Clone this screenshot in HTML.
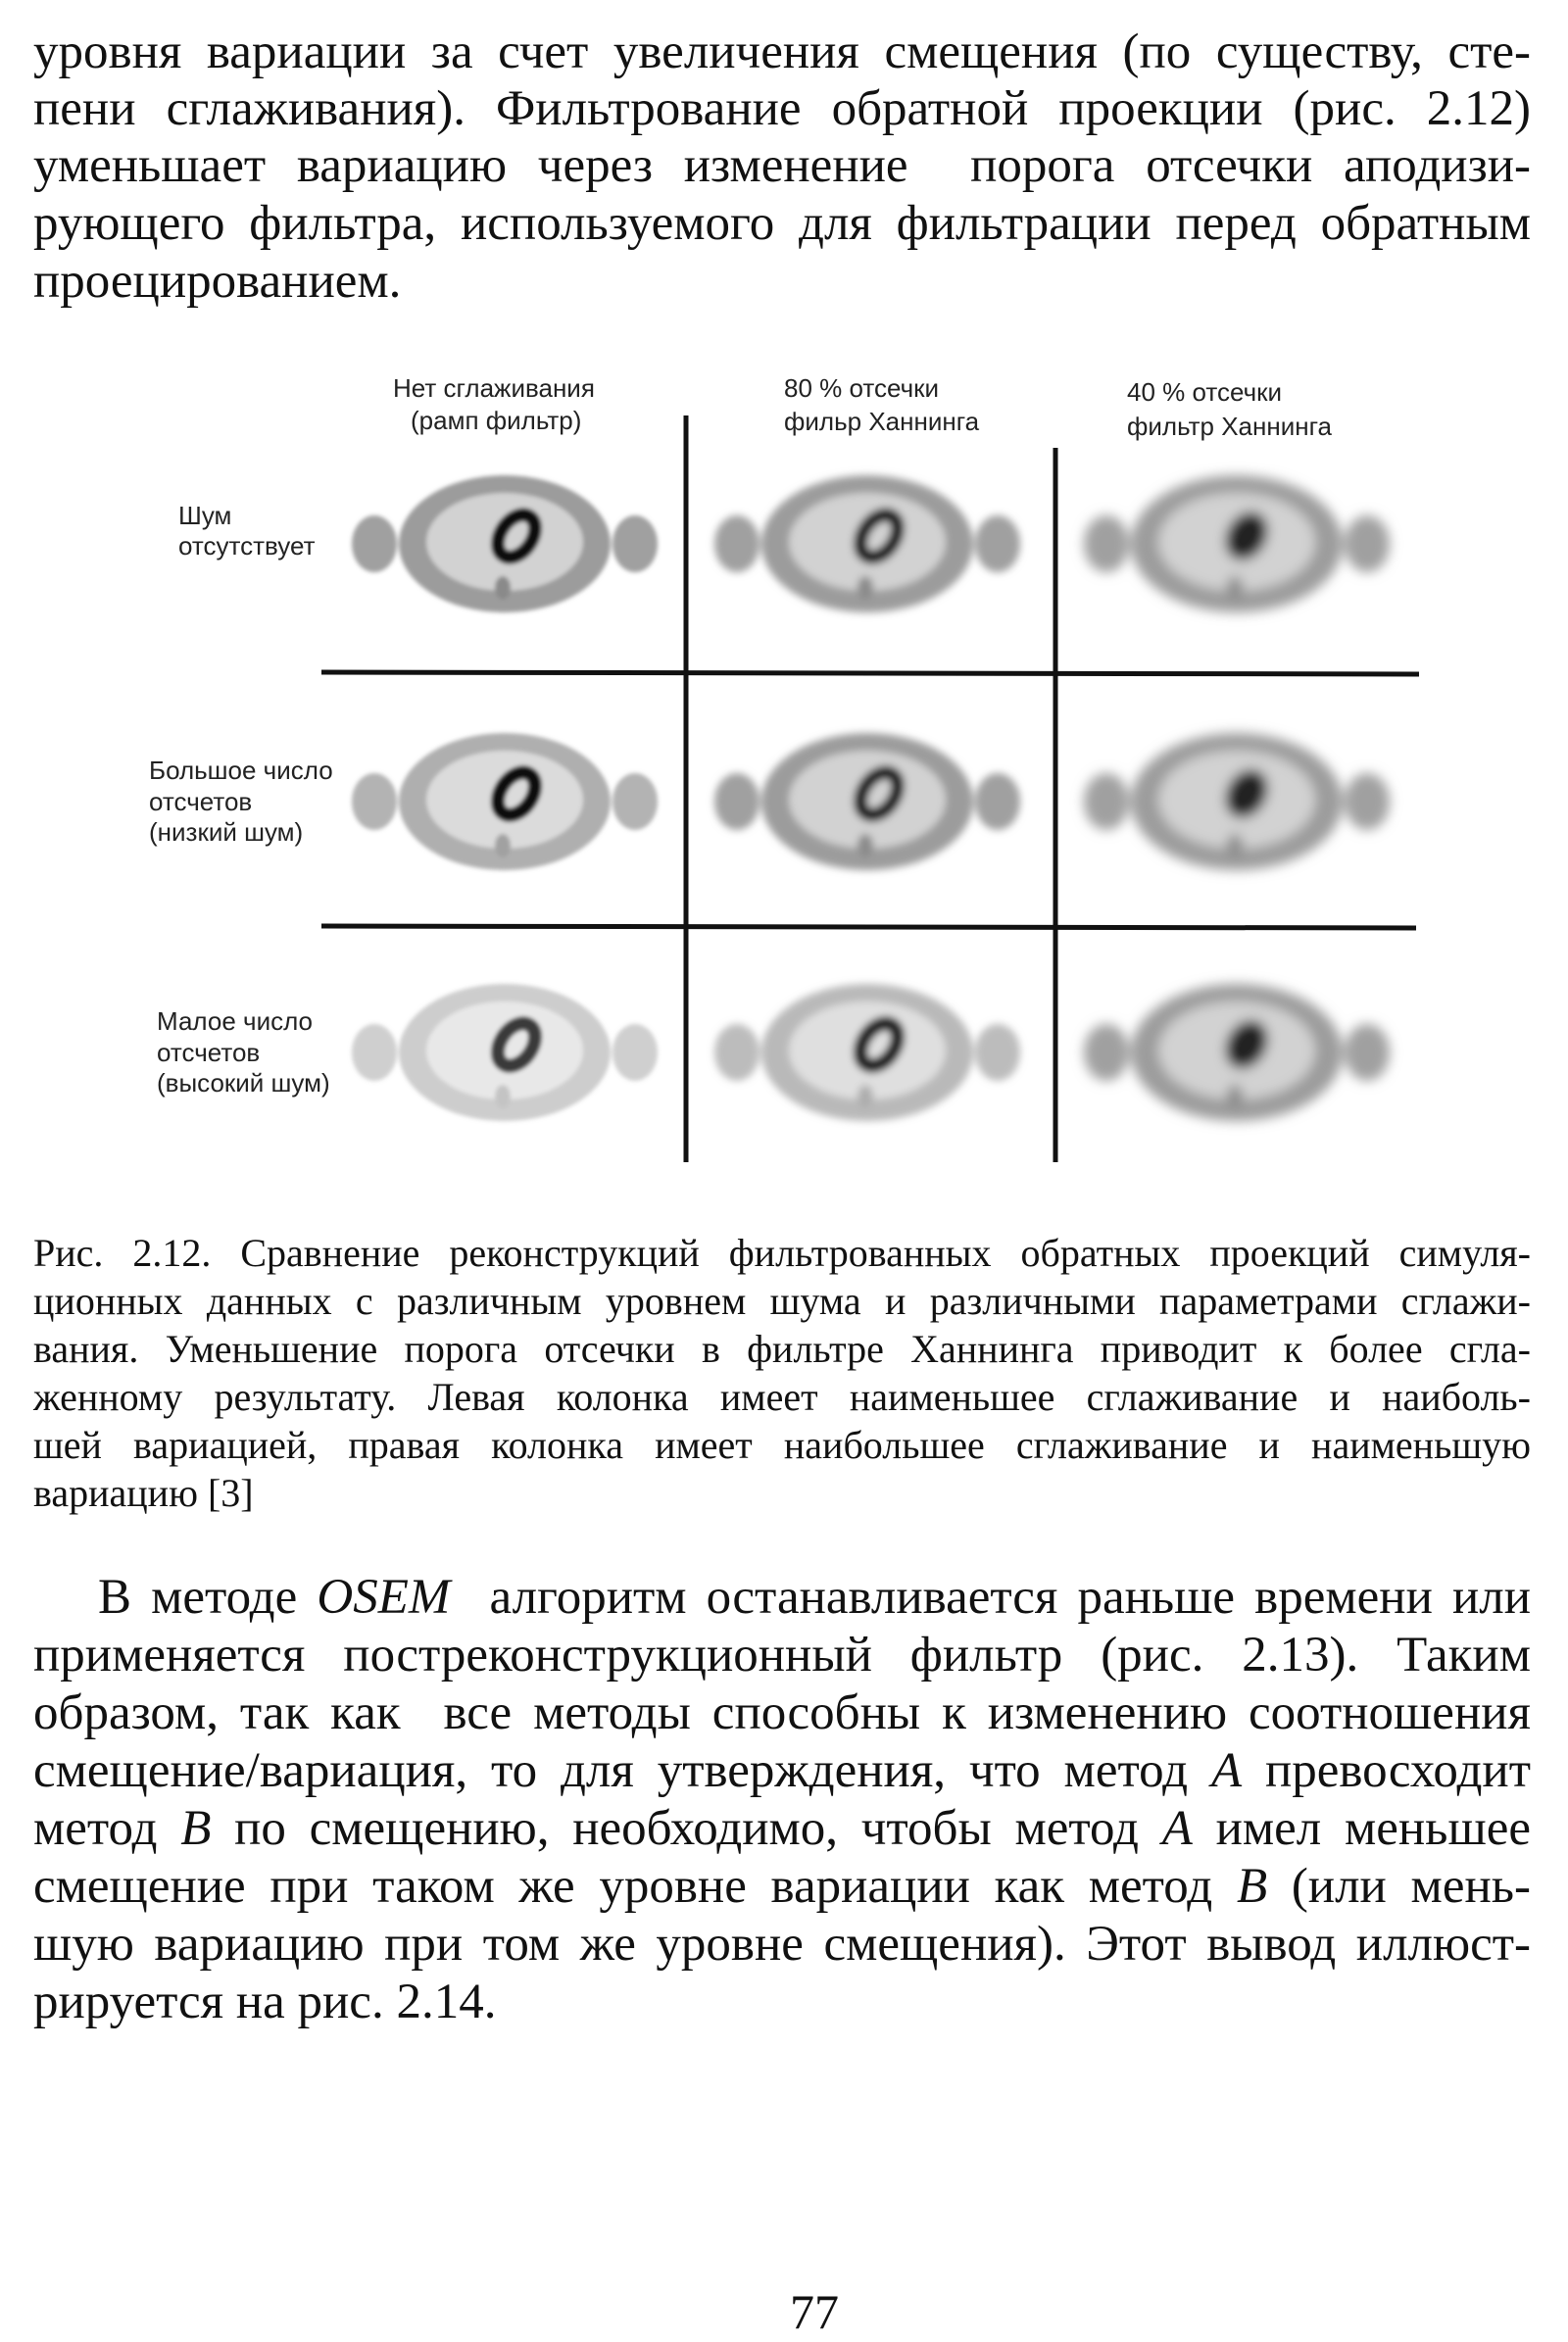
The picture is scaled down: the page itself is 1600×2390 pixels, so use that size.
<!DOCTYPE html>
<html><head><meta charset="utf-8">
<style>
html,body{margin:0;padding:0;background:#fff;}
body{width:1600px;height:2390px;position:relative;overflow:hidden;font-family:"Liberation Serif",serif;color:#111;}
.l{position:absolute;left:34px;width:1528px;white-space:nowrap;text-align:justify;text-align-last:justify;}
.l.last{text-align-last:left;}
.t{font-size:51px;line-height:58px;}
.c{font-size:40px;line-height:49px;}
.s{position:absolute;font-family:"Liberation Sans",sans-serif;font-size:26px;line-height:32px;color:#222;white-space:nowrap;}
</style></head><body>
<div class="l t" style="top:24px">уровня вариации за счет увеличения смещения (по существу, сте-</div>
<div class="l t" style="top:82px">пени сглаживания). Фильтрование обратной проекции (рис. 2.12)</div>
<div class="l t" style="top:140px">уменьшает вариацию через изменение &nbsp;порога отсечки аподизи-</div>
<div class="l t" style="top:199px">рующего фильтра, используемого для фильтрации перед обратным</div>
<div class="l t last" style="top:258px">проецированием.</div>

<svg style="position:absolute;left:0;top:0" width="1600" height="2390">
<defs>
<filter id="b1"><feGaussianBlur stdDeviation="2"/></filter>
<filter id="b2"><feGaussianBlur stdDeviation="4"/></filter>
<filter id="b3"><feGaussianBlur stdDeviation="6"/></filter>
<g id="ph">
<ellipse cx="-133" cy="0" rx="23" ry="29" fill="#a0a0a0"/>
<ellipse cx="133" cy="0" rx="23" ry="29" fill="#a0a0a0"/>
<ellipse cx="0" cy="0" rx="108" ry="70" fill="#9c9c9c"/>
<ellipse cx="0" cy="-2" rx="80" ry="50" fill="#d2d2d2"/>
<ellipse cx="-2" cy="45" rx="8" ry="12" fill="#8a8a8a"/>
</g>
<g id="ring"><ellipse cx="0" cy="0" rx="24" ry="16" fill="none" stroke="#111" stroke-width="14" transform="rotate(-55)"/></g>
<g id="blob"><ellipse cx="0" cy="0" rx="26" ry="20" fill="#222" transform="rotate(-60)"/></g>
</defs>
<g filter="url(#b1)">
<use href="#ph" x="515" y="555"/><use href="#ring" x="527" y="547"/>
<use href="#ph" x="515" y="818" opacity="0.8"/><use href="#ring" x="527" y="810"/>
<use href="#ph" x="515" y="1074" opacity="0.5"/><use href="#ring" x="527" y="1066" opacity="0.8"/>
</g>
<g filter="url(#b2)">
<use href="#ph" x="885" y="555"/><use href="#ring" x="897" y="547"/>
<use href="#ph" x="885" y="818"/><use href="#ring" x="897" y="810"/>
<use href="#ph" x="885" y="1074" opacity="0.7"/><use href="#ring" x="897" y="1066"/>
</g>
<g filter="url(#b3)">
<use href="#ph" x="1262" y="555"/><use href="#blob" x="1272" y="547"/>
<use href="#ph" x="1262" y="818"/><use href="#blob" x="1272" y="810"/>
<use href="#ph" x="1262" y="1074"/><use href="#blob" x="1272" y="1066"/>
</g>
<g stroke="#111" stroke-width="5">
<line x1="700" y1="424" x2="700" y2="1186"/>
<line x1="1077" y1="457" x2="1077" y2="1186"/>
<line x1="328" y1="686" x2="1448" y2="688"/>
<line x1="328" y1="945" x2="1445" y2="947"/>
</g>
</svg>

<div class="s" style="left:401px;top:380px">Нет сглаживания</div>
<div class="s" style="left:419px;top:413px">(рамп фильтр)</div>
<div class="s" style="left:800px;top:380px">80 % отсечки</div>
<div class="s" style="left:800px;top:414px">фильр Ханнинга</div>
<div class="s" style="left:1150px;top:384px">40 % отсечки</div>
<div class="s" style="left:1150px;top:419px">фильтр Ханнинга</div>
<div class="s" style="left:182px;top:510px">Шум</div>
<div class="s" style="left:182px;top:541px">отсутствует</div>
<div class="s" style="left:152px;top:770px">Большое число</div>
<div class="s" style="left:152px;top:802px">отсчетов</div>
<div class="s" style="left:152px;top:833px">(низкий шум)</div>
<div class="s" style="left:160px;top:1026px">Малое число</div>
<div class="s" style="left:160px;top:1058px">отсчетов</div>
<div class="s" style="left:160px;top:1089px">(высокий шум)</div>

<div class="l c" style="top:1254px">Рис. 2.12. Сравнение реконструкций фильтрованных обратных проекций симуля-</div>
<div class="l c" style="top:1303px">ционных данных с различным уровнем шума и различными параметрами сглажи-</div>
<div class="l c" style="top:1352px">вания. Уменьшение порога отсечки в фильтре Ханнинга приводит к более сгла-</div>
<div class="l c" style="top:1401px">женному результату. Левая колонка имеет наименьшее сглаживание и наиболь-</div>
<div class="l c" style="top:1450px">шей вариацией, правая колонка имеет наибольшее сглаживание и наименьшую</div>
<div class="l c last" style="top:1499px">вариацию [3]</div>

<div class="l t" style="top:1601px;left:100px;width:1462px">В методе <i>OSEM</i> &nbsp;алгоритм останавливается раньше времени или</div>
<div class="l t" style="top:1660px">применяется постреконструкционный фильтр (рис. 2.13). Таким</div>
<div class="l t" style="top:1719px">образом, так как &nbsp;все методы способны к изменению соотношения</div>
<div class="l t" style="top:1778px">смещение/вариация, то для утверждения, что метод <i>A</i> превосходит</div>
<div class="l t" style="top:1837px">метод <i>B</i> по смещению, необходимо, чтобы метод <i>A</i> имел меньшее</div>
<div class="l t" style="top:1896px">смещение при таком же уровне вариации как метод <i>B</i> (или мень-</div>
<div class="l t" style="top:1955px">шую вариацию при том же уровне смещения). Этот вывод иллюст-</div>
<div class="l t last" style="top:2014px">рируется на рис. 2.14.</div>

<div style="position:absolute;left:0;width:1662px;text-align:center;top:2330px;font-size:50px;line-height:58px">77</div>
</body></html>
